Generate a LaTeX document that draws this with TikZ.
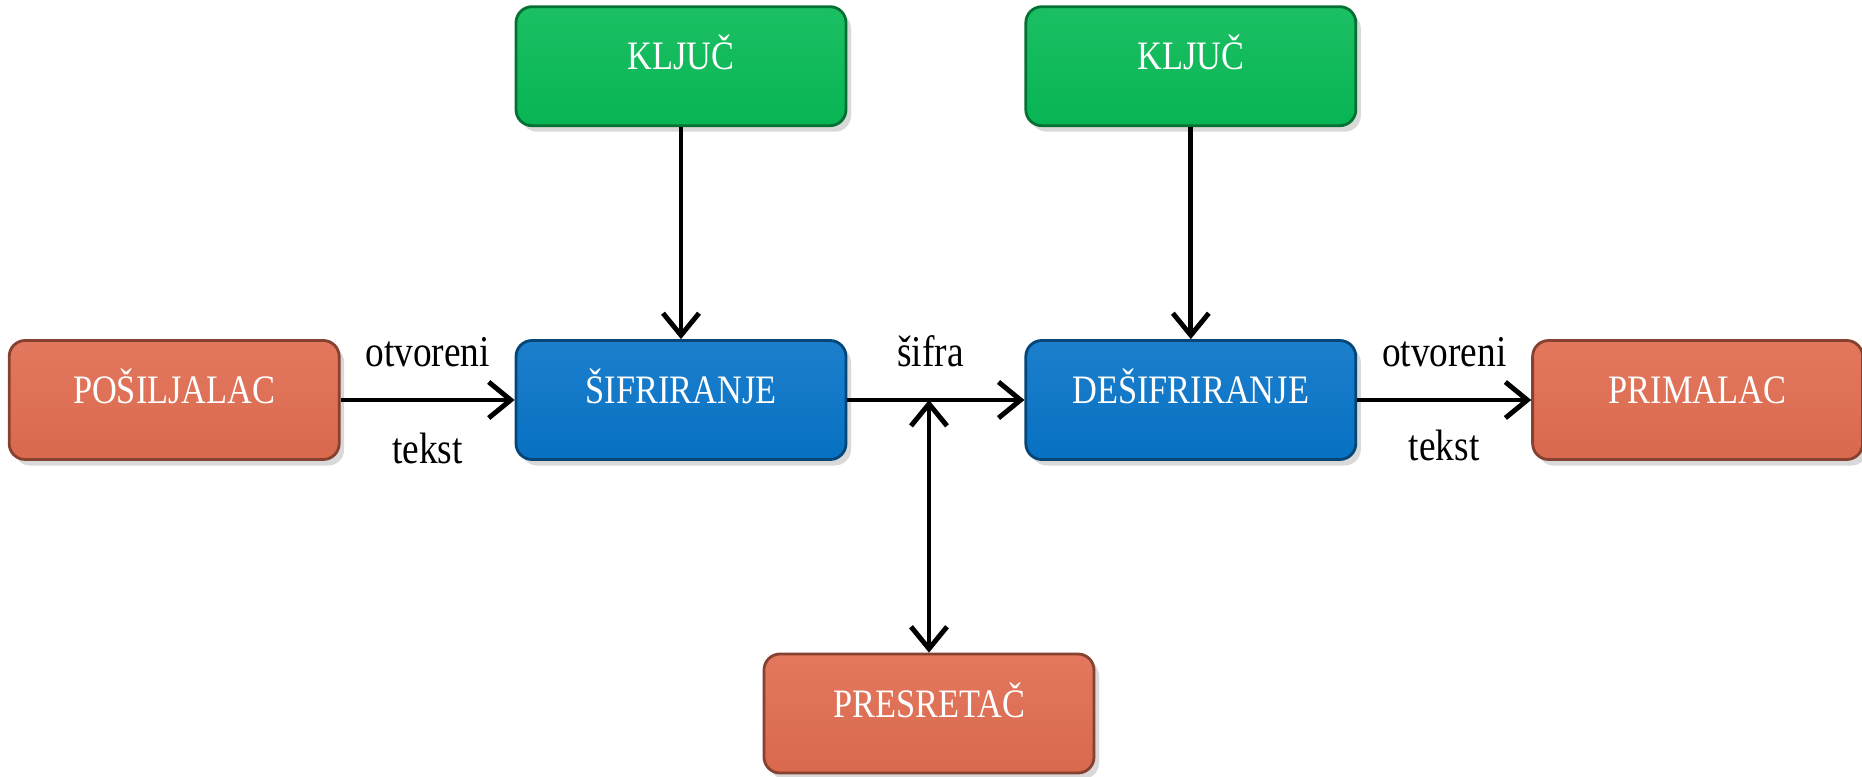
\documentclass[tikz,border=0pt]{standalone}
\usepackage{fontspec}
\setmainfont[FakeStretch=0.85]{Liberation Serif}
\usetikzlibrary{positioning, arrows.meta, shadows}

\definecolor{crvena}{RGB}{224,108,80}
\definecolor{zelena}{RGB}{8,186,86}
\definecolor{plava}{RGB}{8,116,200}

\begin{document}
\begin{tikzpicture}
[
	blok/.style 			=
	{
		rectangle,
		rounded corners		= 1.6mm,
		minimum width		= 3.3cm,
		minimum height		= 1.19cm,
		draw				= #1!60!black,
		line width			= 0.8pt,
		top color			= #1!92!white,
		bottom color		= #1!97!black,
		text				= white,
		font				= \fontsize{11.5}{13}\selectfont,
		text height			= 9pt, % text sits a little above the middle
		text depth			= 7pt,
		drop shadow			= {opacity = 0.3, shadow xshift = 0.5mm, shadow yshift = -0.6mm},
	},
	natpis/.style			=
	{
		font				= \fontsize{12.5}{14}\selectfont,
		inner sep			= 0pt,
		anchor				= base,
	},
	every path/.style		= {line width = 1.4pt},
	>						= {Straight Barb[length = 2.2mm, width = 3.6mm]},
]

\useasboundingbox (0, 0) rectangle (18.62, 7.76);

\node [blok = plava] (sifriranje) at (6.81, 3.76) {ŠIFRIRANJE};
\node [blok = crvena, left = 1.74cm of sifriranje] (posiljalac) {POŠILJALAC};
\node [blok = plava, right = 1.77cm of sifriranje] (desifriranje) {DEŠIFRIRANJE};
\node [blok = crvena, right = 1.74cm of desifriranje] (primalac) {PRIMALAC};

\node [blok = zelena, above = 2.12cm of sifriranje] (kljuc1) {KLJUČ};
\node [blok = zelena, above = 2.12cm of desifriranje] (kljuc2) {KLJUČ};

\node [blok = crvena] (presretac) at (9.29, 0.625) {PRESRETAČ};
\coordinate (tap) at (presretac |- sifriranje.east); % where the interceptor listens

\draw [->] (posiljalac) -- (sifriranje)
	node [natpis, midway, yshift = 3.4mm] {otvoreni}
	node [natpis, midway, yshift = -6.3mm] {tekst};
\draw [->] (sifriranje) -- (desifriranje)
	node [natpis, pos = 0.47, yshift = 3.4mm] {šifra};
\draw [->] (desifriranje) -- (primalac)
	node [natpis, midway, yshift = 3.4mm] {otvoreni}
	node [natpis, midway, yshift = -6.0mm] {tekst};

\draw [->] (kljuc1) -- (sifriranje);
\draw [->] (kljuc2) -- (desifriranje);

\draw [<->] (presretac) -- (tap);

\end{tikzpicture}
\end{document}
